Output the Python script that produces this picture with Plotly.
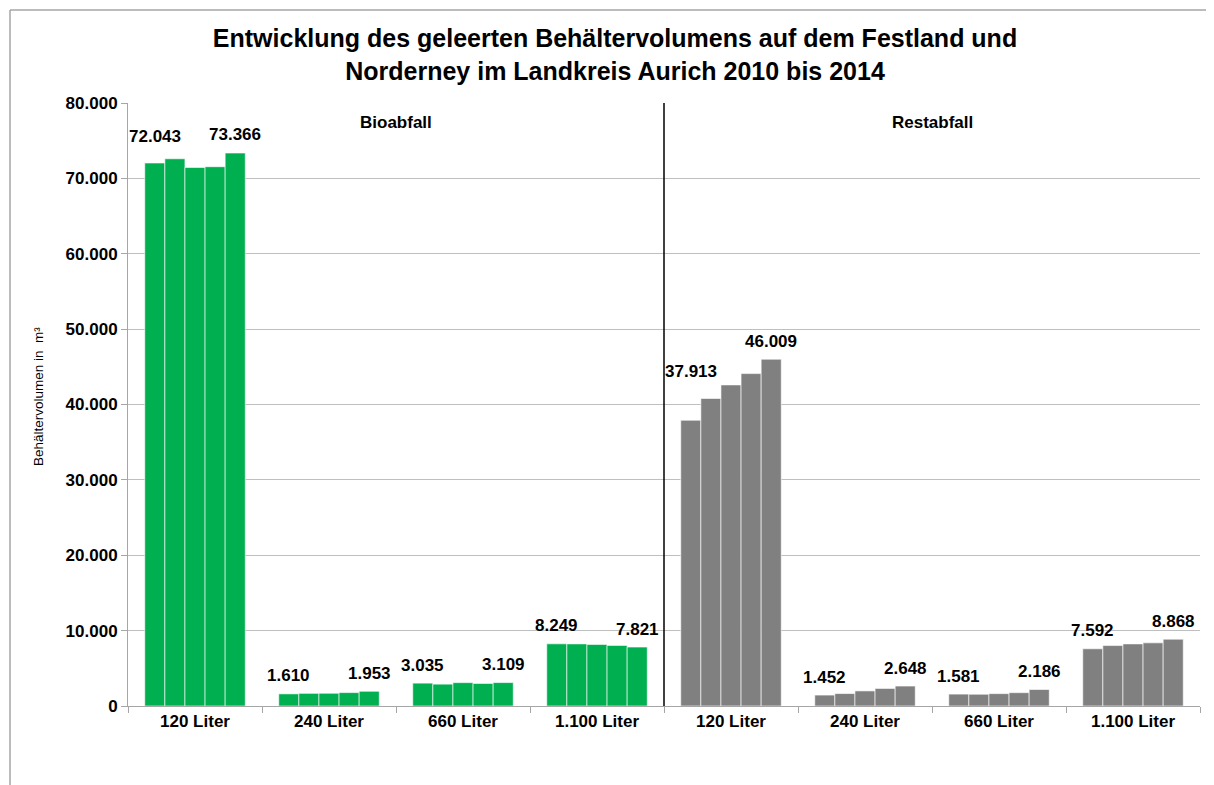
import plotly.graph_objects as go

# ---- data ----
years = ["2010", "2011", "2012", "2013", "2014"]
categories = ["120 Liter", "240 Liter", "660 Liter", "1.100 Liter",
              "120 Liter", "240 Liter", "660 Liter", "1.100 Liter"]
groups = ["Bioabfall", "Bioabfall", "Bioabfall", "Bioabfall",
          "Restabfall", "Restabfall", "Restabfall", "Restabfall"]
group_labels = ["Bioabfall", "Restabfall"]

# values per category (2010..2014)
bio_120 = [72043, 72600, 71450, 71550, 73366]
bio_240 = [1610, 1680, 1690, 1780, 1953]
bio_660 = [3035, 2900, 3100, 2990, 3109]
bio_1100 = [8249, 8240, 8170, 8040, 7821]
rest_120 = [37913, 40800, 42600, 44100, 46009]
rest_240 = [1452, 1650, 2000, 2330, 2648]
rest_660 = [1581, 1560, 1640, 1770, 2186]
rest_1100 = [7592, 8020, 8240, 8380, 8868]

values = [bio_120, bio_240, bio_660, bio_1100, rest_120, rest_240, rest_660, rest_1100]

y_ticks = [0, 10000, 20000, 30000, 40000, 50000, 60000, 70000, 80000]
title = "Entwicklung des geleerten Behältervolumens auf dem Festland und<br>Norderney im Landkreis Aurich 2010 bis 2014"
y_title = "Behältervolumen in  m³"

# ---- style ----
GREEN = "#00B050"
GREY = "#808080"
FONT = "Liberation Sans, Arial, sans-serif"
BARGAP = 0.25
colors = [GREEN if g == "Bioabfall" else GREY for g in groups]

# the page body adds an 8px offset; the figure is sized to fill the rest
OFF = 8
W, H = 1214 - OFF, 785 - OFF
L, R, T, B = 128 - OFF, 14, 103 - OFF, 79
pw, ph = W - L - R, H - T - B

def fmt(v):
    return f"{v:,}".replace(",", ".")

fig = go.Figure()
xs = list(range(len(categories)))
for j, yr in enumerate(years):
    fig.add_trace(go.Bar(
        x=xs, y=[v[j] for v in values], name=yr,
        marker=dict(color=colors, line=dict(color="rgba(255,255,255,0.6)", width=1)),
        showlegend=False,
    ))

# data labels for first and last year
bar_w = (1 - BARGAP) / len(years)
label_shift = {(4, 0): 49, (0, 0): 26, (0, 4): 19}
annotations = []
for i, v in enumerate(values):
    for j in (0, len(years) - 1):
        xoff = (j - (len(years) - 1) / 2) * bar_w
        annotations.append(dict(
            x=i + xoff, y=v[j], xref="x", yref="y", text=fmt(v[j]), showarrow=False,
            yshift=label_shift.get((i, j), 18), yanchor="middle",
            font=dict(family=FONT, size=17, color="black", weight="bold"),
        ))

# group headings
for k, g in enumerate(group_labels):
    idx = [i for i, gg in enumerate(groups) if gg == g]
    annotations.append(dict(
        x=(idx[0] + idx[-1]) / 2, y=77400, xref="x", yref="y", text=g, showarrow=False,
        font=dict(family=FONT, size=17, color="black", weight="bold"),
    ))

# y-axis title
annotations.append(dict(
    x=(38 - OFF - L) / pw, y=(H - B - (397 - OFF)) / ph, xref="paper", yref="paper",
    text=y_title, textangle=-90, showarrow=False, xanchor="center", yanchor="middle",
    font=dict(family=FONT, size=13.5, color="black"),
))

shapes = [
    # separator between groups
    dict(type="line", xref="x", yref="y", x0=3.5, x1=3.5, y0=0, y1=80000,
         line=dict(color="black", width=1.5)),
    # outer frame (left and top)
    dict(type="line", xref="paper", yref="paper", x0=(10 - OFF - L) / pw, x1=(10 - OFF - L) / pw,
         y0=(H - B - (10 - OFF)) / ph, y1=(H - B - 800) / ph, line=dict(color="#a6a6a6", width=1.5)),
    dict(type="line", xref="paper", yref="paper", x0=(10 - OFF - L) / pw, x1=(W + 5 - L) / pw,
         y0=(H - B - (10 - OFF)) / ph, y1=(H - B - (10 - OFF)) / ph, line=dict(color="#a6a6a6", width=1.5)),
]

fig.update_layout(
    width=W, height=H,
    margin=dict(l=L, r=R, t=T, b=B),
    paper_bgcolor="white", plot_bgcolor="white",
    separators=",.",
    barmode="group", bargap=BARGAP, bargroupgap=0,
    title=dict(text=title, x=(615 - OFF) / W, xanchor="center", y=1 - (55 - OFF - 8) / H, yanchor="middle",
               font=dict(family=FONT, size=25, color="black", weight="bold")),
    annotations=annotations, shapes=shapes,
    xaxis=dict(
        range=[-0.5, len(categories) - 0.5], tickmode="array", tickvals=xs, ticktext=categories,
        ticks="", showgrid=False, showline=True, linecolor="#a6a6a6", linewidth=1,
        tickfont=dict(family=FONT, size=17, color="black", weight="bold"),
        minor=dict(tickmode="array", tickvals=[i - 0.5 for i in range(len(categories) + 1)],
                   ticks="outside", ticklen=6, tickcolor="#a6a6a6", showgrid=False),
        zeroline=False,
    ),
    yaxis=dict(
        range=[0, 80000], tickmode="array", tickvals=y_ticks, tickformat=",d",
        ticks="outside", ticklen=6, tickcolor="#a6a6a6",
        showgrid=True, gridcolor="#bfbfbf", gridwidth=1,
        showline=True, linecolor="#a6a6a6", linewidth=1, zeroline=False,
        tickfont=dict(family=FONT, size=17, color="black", weight="bold"),
    ),
)

fig.write_html("out.html")
